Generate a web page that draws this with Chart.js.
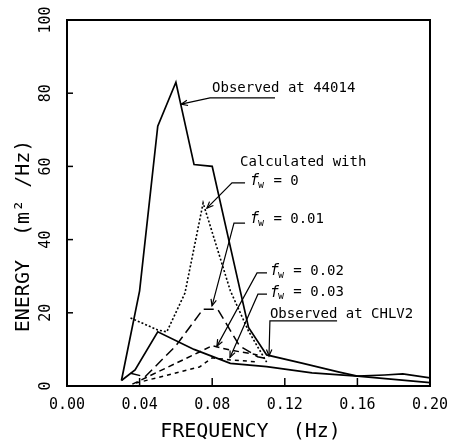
<!DOCTYPE html>
<html>
<head>
<meta charset="utf-8">
<script src="https://cdn.jsdelivr.net/npm/chart.js@4.4.1/dist/chart.umd.min.js"></script>
<style>
  html, body { margin: 0; padding: 0; background: #fff; }
</style>
</head>
<body>
<canvas id="energyChart" width="458" height="442"></canvas>
<script>
// valores: frequencia (Hz) x energia (m2/Hz)
const freqObs44014 = [0.03, 0.04, 0.05, 0.06, 0.07, 0.08, 0.09, 0.10, 0.11, 0.13, 0.15, 0.16, 0.175, 0.185, 0.20];
const energyObs44014 = [1.5, 26, 71, 83, 60.5, 60, 38, 16, 8.5, 6.2, 3.8, 2.7, 3.0, 3.3, 2.2];

const freqObsCHLV2 = [0.03, 0.0375, 0.05, 0.07, 0.09, 0.11, 0.135, 0.16, 0.20];
const energyObsCHLV2 = [1.5, 4.4, 14.8, 10, 6.2, 5.3, 3.6, 2.7, 0.9];

const freqFw0 = [0.035, 0.05, 0.055, 0.065, 0.075, 0.09, 0.10, 0.11];
const energyFw0 = [18.6, 15.3, 14.8, 25.4, 50, 26, 15, 6.5];

const freqFw001 = [0.035, 0.043, 0.06, 0.075, 0.083, 0.095, 0.105, 0.11];
const energyFw001 = [3.5, 2.5, 11, 21, 21, 11, 8, 7.5];

const freqFw002 = [0.036, 0.073, 0.08, 0.09, 0.105];
const energyFw002 = [0.5, 9.3, 11, 9.8, 8.5];

const freqFw003 = [0.038, 0.073, 0.08, 0.09, 0.105];
const energyFw003 = [0.8, 5.2, 7.7, 7.1, 6.6];

const xTicks = [0.00, 0.04, 0.08, 0.12, 0.16, 0.20];
const yTicks = [0, 20, 40, 60, 80, 100];

const FONT = "'DejaVu Sans Mono', 'Liberation Mono', monospace";

const pts = (xs, ys) => xs.map((x, i) => ({ x: x, y: ys[i] }));

const serie = (data, dash, width) => ({
    data: data,
    borderColor: '#000',
    borderWidth: width,
    borderDash: dash,
    pointRadius: 0,
    fill: false,
    tension: 0
});

// anotacoes (em coordenadas de dados)
const notes = [
    { text: 'Observed at 44014', x: 0.0799, y: 81.2, path: [[0.1146, 78.7], [0.0788, 78.7], [0.0629, 77.0]] },
    { text: 'Calculated with', x: 0.0953, y: 61.2 },
    { fw: '0', x: 0.1008, y: 55.9, path: [[0.0981, 55.5], [0.0909, 55.5], [0.0771, 48.6]] },
    { fw: '0.01', x: 0.1008, y: 45.6, path: [[0.0981, 44.5], [0.0920, 44.5], [0.0799, 21.9]] },
    { fw: '0.02', x: 0.1118, y: 31.3, path: [[0.1102, 30.9], [0.1047, 30.9], [0.0826, 10.9]] },
    { fw: '0.03', x: 0.1118, y: 25.5, path: [[0.1102, 25.1], [0.1052, 25.1], [0.0898, 7.8]] },
    { text: 'Observed at CHLV2', x: 0.1118, y: 19.6, path: [[0.1488, 17.8], [0.1118, 17.8], [0.1113, 8.2]] }
];

function arrowHead(ctx, x0, y0, x1, y1) {
    const a = Math.atan2(y1 - y0, x1 - x0);
    const len = 7, spread = 0.4;
    ctx.beginPath();
    ctx.moveTo(x1 - len * Math.cos(a - spread), y1 - len * Math.sin(a - spread));
    ctx.lineTo(x1, y1);
    ctx.lineTo(x1 - len * Math.cos(a + spread), y1 - len * Math.sin(a + spread));
    ctx.stroke();
}

const framePlugin = {
    id: 'frame',
    afterDraw(chart) {
        const { ctx, chartArea: area, scales } = chart;
        const sx = scales.x, sy = scales.y;
        ctx.save();
        ctx.strokeStyle = '#000';
        ctx.fillStyle = '#000';
        ctx.setLineDash([]);

        // moldura
        ctx.lineWidth = 2;
        ctx.strokeRect(area.left, area.top, area.right - area.left, area.bottom - area.top);

        // ticks internos
        ctx.lineWidth = 1.5;
        xTicks.forEach(v => {
            const px = sx.getPixelForValue(v);
            ctx.beginPath();
            ctx.moveTo(px, area.bottom);
            ctx.lineTo(px, area.bottom - 8);
            ctx.stroke();
        });
        yTicks.forEach(v => {
            const py = sy.getPixelForValue(v);
            ctx.beginPath();
            ctx.moveTo(area.left, py);
            ctx.lineTo(area.left + 6, py);
            ctx.stroke();
        });

        // rotulos
        ctx.font = '15px ' + FONT;
        ctx.textAlign = 'center';
        ctx.textBaseline = 'middle';
        xTicks.forEach(v => {
            ctx.fillText(v.toFixed(2), sx.getPixelForValue(v), area.bottom + 19);
        });
        yTicks.forEach(v => {
            ctx.save();
            ctx.translate(area.left - 21, sy.getPixelForValue(v));
            ctx.rotate(-Math.PI / 2);
            ctx.fillText(String(v), 0, 0);
            ctx.restore();
        });

        // titulos dos eixos
        ctx.font = '20px ' + FONT;
        ctx.fillText('FREQUENCY  (Hz)', (area.left + area.right) / 2 + 2, area.bottom + 46);
        ctx.save();
        ctx.translate(area.left - 43, sy.getPixelForValue(41));
        ctx.rotate(-Math.PI / 2);
        ctx.fillText('ENERGY  (m² /Hz)', 0, 0);
        ctx.restore();

        // anotacoes
        ctx.textAlign = 'left';
        ctx.lineWidth = 1.2;
        notes.forEach(n => {
            const px = sx.getPixelForValue(n.x), py = sy.getPixelForValue(n.y);
            if (n.text) {
                ctx.font = '14px ' + FONT;
                ctx.fillText(n.text, px, py);
            } else {
                ctx.font = 'italic 15px ' + FONT;
                ctx.fillText('f', px, py);
                ctx.font = '10px ' + FONT;
                ctx.fillText('w', px + 8, py + 4);
                ctx.font = '14px ' + FONT;
                ctx.fillText(' = ' + n.fw, px + 15, py);
            }
            if (n.path) {
                const p = n.path.map(q => [sx.getPixelForValue(q[0]), sy.getPixelForValue(q[1])]);
                ctx.beginPath();
                ctx.moveTo(p[0][0], p[0][1]);
                p.slice(1).forEach(q => ctx.lineTo(q[0], q[1]));
                ctx.stroke();
                const k = p.length - 1;
                arrowHead(ctx, p[k - 1][0], p[k - 1][1], p[k][0], p[k][1]);
            }
        });
        ctx.restore();
    }
};

const ctx = document.getElementById('energyChart').getContext('2d');

window.energyChart = new Chart(ctx, {
    type: 'line',
    data: {
        datasets: [
            serie(pts(freqObs44014, energyObs44014), [], 1.7),
            serie(pts(freqObsCHLV2, energyObsCHLV2), [], 1.7),
            serie(pts(freqFw0, energyFw0), [2, 2], 1.6),
            serie(pts(freqFw001, energyFw001), [10, 5], 1.5),
            serie(pts(freqFw002, energyFw002), [6, 4], 1.5),
            serie(pts(freqFw003, energyFw003), [4, 4], 1.5)
        ]
    },
    options: {
        responsive: false,
        animation: false,
        devicePixelRatio: 1,
        layout: { padding: { left: 67, top: 20, right: 28, bottom: 56 } },
        plugins: {
            legend: { display: false },
            tooltip: { enabled: false }
        },
        scales: {
            x: { type: 'linear', min: 0, max: 0.2, display: false },
            y: { type: 'linear', min: 0, max: 100, display: false }
        }
    },
    plugins: [framePlugin]
});
</script>
</body>
</html>
